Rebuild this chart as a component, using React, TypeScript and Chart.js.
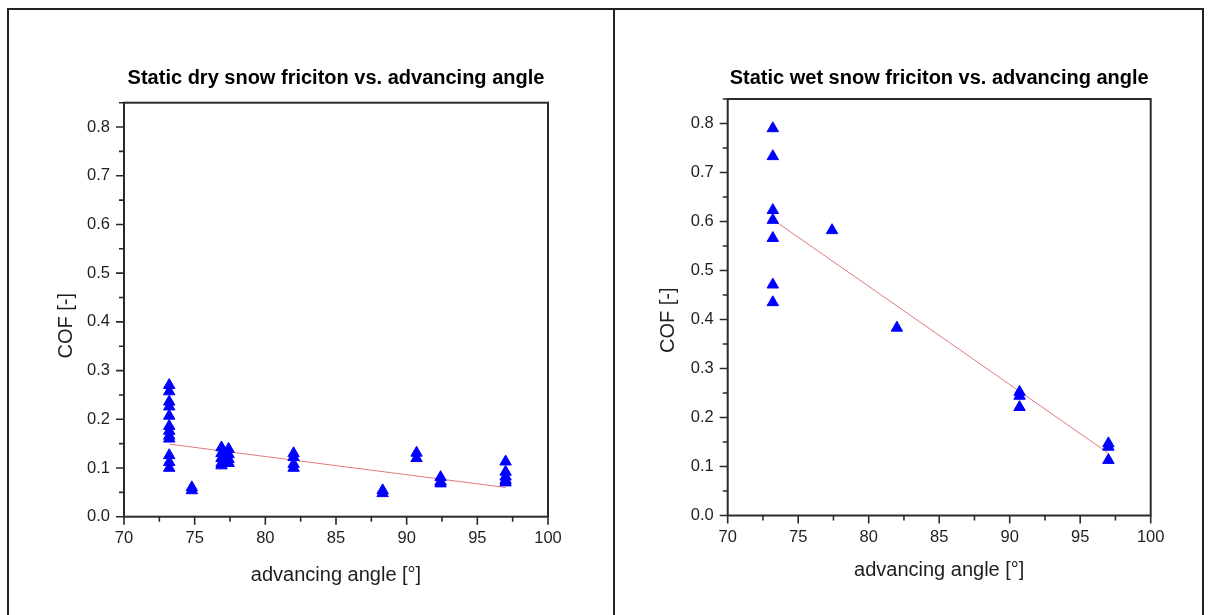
import React, { useEffect, useRef } from "react";
import { Chart, registerables } from "chart.js";

Chart.register(...registerables);

// ---------- data ----------
const xTickValues = [70, 75, 80, 85, 90, 95, 100];
const yTickValues = [0, 0.1, 0.2, 0.3, 0.4, 0.5, 0.6, 0.7, 0.8];

const dryTitle = "Static dry snow friciton vs. advancing angle";
const wetTitle = "Static wet snow friciton vs. advancing angle";
const xAxisTitle = "advancing angle [°]";
const yAxisTitle = "COF [-]";

const dryAngle = [
  73.2, 73.2, 73.2, 73.2, 73.2, 73.2, 73.2, 73.2, 73.2, 73.2, 73.2, 73.2,
  74.8, 74.8,
  76.9, 76.9, 76.9, 76.9, 76.9,
  77.4, 77.4, 77.4, 77.4,
  82.0, 82.0, 82.0, 82.0,
  88.3, 88.3,
  90.7, 90.7,
  92.4, 92.4, 92.4,
  97.0, 97.0, 97.0, 97.0, 97.0,
];
const dryCOF = [
  0.27, 0.257, 0.236, 0.226, 0.207, 0.186, 0.176, 0.166, 0.16, 0.126, 0.112, 0.1,
  0.06, 0.054,
  0.142, 0.13, 0.12, 0.11, 0.105,
  0.139, 0.128, 0.118, 0.11,
  0.13, 0.122, 0.108, 0.1,
  0.054, 0.048,
  0.131, 0.12,
  0.081, 0.072, 0.068,
  0.113, 0.092, 0.082, 0.075, 0.07,
];
const dryFitAngle = [73.2, 97.0];
const dryFitCOF = [0.149, 0.06];

const wetAngle = [
  73.2, 73.2, 73.2, 73.2, 73.2, 73.2, 73.2,
  77.4,
  82.0,
  90.7, 90.7, 90.7,
  97.0, 97.0, 97.0,
];
const wetCOF = [
  0.79, 0.733, 0.623, 0.603, 0.566, 0.471, 0.435,
  0.582,
  0.383,
  0.252, 0.244, 0.221,
  0.147, 0.14, 0.113,
];
const wetFitAngle = [73.2, 97.0];
const wetFitCOF = [0.604, 0.127];

// ---------- styling ----------
const FONT = "'Liberation Sans', Arial, Helvetica, sans-serif";
const POINT_COLOR = "#0000ff";
const FIT_COLOR = "#e07a7a";
const AXIS_COLOR = "#2a2a2a";
const TEXT_COLOR = "#1e1e1e";

const originAxes = {
  id: "originAxes",
  afterDatasetsDraw(chart: any, _args: any, opts: any) {
    const { ctx, chartArea: a, scales } = chart;
    const x = scales.x;
    const y = scales.y;
    ctx.save();
    ctx.strokeStyle = AXIS_COLOR;
    ctx.lineWidth = 1.6;
    ctx.beginPath();
    const xs: number[] = [];
    for (let i = 0; i < xTickValues.length; i++) {
      xs.push(xTickValues[i]);
      if (i < xTickValues.length - 1) xs.push((xTickValues[i] + xTickValues[i + 1]) / 2);
    }
    xs.forEach((v, i) => {
      const px = x.getPixelForValue(v);
      const len = i % 2 === 0 ? 8 : 5;
      ctx.moveTo(px, a.bottom);
      ctx.lineTo(px, a.bottom + len);
    });
    const ys: number[] = [];
    for (let i = 0; i < yTickValues.length; i++) {
      ys.push(yTickValues[i]);
      ys.push(yTickValues[i] + 0.05);
    }
    ys.forEach((v, i) => {
      const py = y.getPixelForValue(v);
      const len = i % 2 === 0 ? 8 : 5;
      ctx.moveTo(a.left, py);
      ctx.lineTo(a.left - len, py);
    });
    ctx.stroke();
    ctx.lineWidth = 2;
    ctx.strokeRect(a.left, a.top, a.right - a.left, a.bottom - a.top);

    // y-axis title, placed like the original (slightly below the axis centre)
    const cx = y.left + 16;
    const cy = (a.top + a.bottom) / 2 + (opts.yTitleShift || 0);
    ctx.translate(cx, cy);
    ctx.rotate(-Math.PI / 2);
    ctx.fillStyle = TEXT_COLOR;
    ctx.font = `20px ${FONT}`;
    ctx.textAlign = "center";
    ctx.textBaseline = "middle";
    ctx.fillText(yAxisTitle, 0, 0);
    ctx.restore();
  },
};

type PanelProps = {
  title: string;
  angle: number[];
  cof: number[];
  fitAngle: number[];
  fitCOF: number[];
  width: number;
  height: number;
  pad: { left: number; right: number; top: number; bottom: number };
  yAxisWidth: number;
  xAxisHeight: number;
  titlePadBottom: number;
  yTitleShift: number;
};

function Panel(p: PanelProps) {
  const ref = useRef<HTMLCanvasElement | null>(null);
  useEffect(() => {
    if (!ref.current) return;
    const chart = new Chart(ref.current, {
      type: "scatter",
      data: {
        datasets: [
          {
            label: "fit",
            data: p.fitAngle.map((v, i) => ({ x: v, y: p.fitCOF[i] })),
            showLine: true,
            borderColor: FIT_COLOR,
            borderWidth: 1,
            pointRadius: 0,
            order: 2,
          },
          {
            label: "COF",
            data: p.angle.map((v, i) => ({ x: v, y: p.cof[i] })),
            pointStyle: "triangle",
            pointRadius: 6.6,
            pointBorderWidth: 1,
            backgroundColor: POINT_COLOR,
            borderColor: POINT_COLOR,
            order: 1,
          },
        ],
      },
      options: {
        animation: false,
        responsive: false,
        events: [],
        layout: { padding: p.pad },
        plugins: {
          legend: { display: false },
          tooltip: { enabled: false },
          title: {
            display: true,
            text: p.title,
            fullSize: false,
            color: "#000",
            font: { family: FONT, size: 20, weight: "bold" },
            padding: { top: 0, bottom: p.titlePadBottom },
          },
          originAxes: { yTitleShift: p.yTitleShift },
        },
        scales: {
          x: {
            type: "linear",
            min: 70,
            max: 100,
            afterBuildTicks: (s: any) => {
              s.ticks = xTickValues.map((v) => ({ value: v }));
            },
            afterFit: (s: any) => {
              s.height = p.xAxisHeight;
            },
            grid: { display: false, drawTicks: false },
            border: { display: false },
            ticks: {
              autoSkip: false,
              maxRotation: 0,
              padding: 12,
              color: TEXT_COLOR,
              font: { family: FONT, size: 16.5 },
              callback: (v: any) => String(v),
            },
            title: {
              display: true,
              text: xAxisTitle,
              color: TEXT_COLOR,
              font: { family: FONT, size: 20 },
              padding: { top: 0, bottom: 8 },
            },
          },
          y: {
            type: "linear",
            min: 0,
            max: 0.85,
            afterBuildTicks: (s: any) => {
              s.ticks = yTickValues.map((v) => ({ value: v }));
            },
            afterFit: (s: any) => {
              s.width = p.yAxisWidth;
            },
            grid: { display: false, drawTicks: false },
            border: { display: false },
            ticks: {
              autoSkip: false,
              padding: 14,
              color: TEXT_COLOR,
              font: { family: FONT, size: 16.5 },
              callback: (v: any) => Number(v).toFixed(1),
            },
            title: { display: false },
          },
        },
      },
      plugins: [originAxes],
    } as any);
    return () => chart.destroy();
  }, []);
  return <canvas ref={ref} width={p.width} height={p.height} style={{ display: "block" }} />;
}

export default function App() {
  const line = (style: React.CSSProperties): React.CSSProperties => ({
    position: "absolute",
    background: "#222",
    ...style,
  });
  return (
    <div style={{ position: "absolute", left: 0, top: 0, width: 1213, height: 615, overflow: "hidden", background: "#fff" }}>
      <div style={line({ left: 7, top: 8, width: 1197, height: 2 })} />
      <div style={line({ left: 7, top: 8, width: 2, height: 607 })} />
      <div style={line({ left: 613, top: 8, width: 2, height: 607 })} />
      <div style={line({ left: 1202, top: 8, width: 2, height: 607 })} />
      <div style={{ position: "absolute", left: 9, top: 10 }}>
        <Panel
          title={dryTitle}
          angle={dryAngle}
          cof={dryCOF}
          fitAngle={dryFitAngle}
          fitCOF={dryFitCOF}
          width={604}
          height={605}
          pad={{ left: 41, right: 65, top: 56, bottom: 20 }}
          yAxisWidth={74}
          xAxisHeight={78.3}
          titlePadBottom={12.7}
          yTitleShift={16}
        />
      </div>
      <div style={{ position: "absolute", left: 615, top: 10 }}>
        <Panel
          title={wetTitle}
          angle={wetAngle}
          cof={wetCOF}
          fitAngle={wetFitAngle}
          fitCOF={wetFitCOF}
          width={587}
          height={605}
          pad={{ left: 37, right: 51.3, top: 56.8, bottom: 24.4 }}
          yAxisWidth={75.7}
          xAxisHeight={75.1}
          titlePadBottom={8.2}
          yTitleShift={13}
        />
      </div>
    </div>
  );
}
